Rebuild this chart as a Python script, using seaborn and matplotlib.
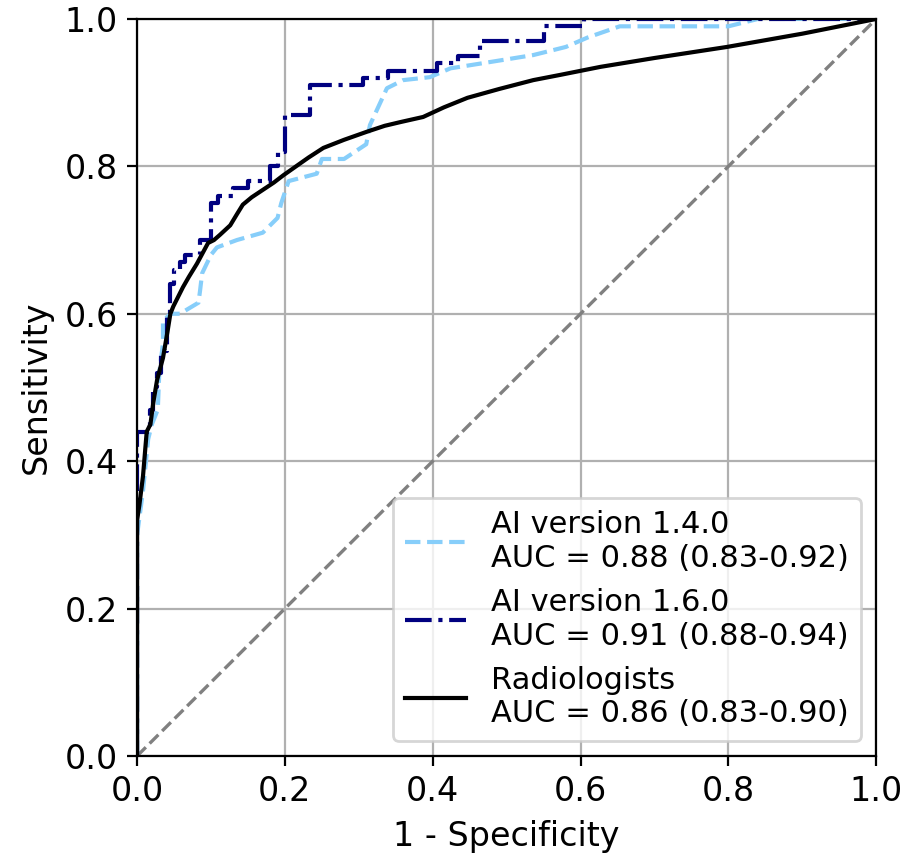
import matplotlib
matplotlib.use('Agg')
import matplotlib.pyplot as plt
import seaborn as sns
import pandas as pd

# ROC curve points (1 - specificity, sensitivity)
fpr_v140 = [0, 0, 0.008, 0.012, 0.015, 0.02, 0.028, 0.03, 0.035, 0.035, 0.045, 0.058,
            0.083, 0.085, 0.088, 0.1, 0.108, 0.135, 0.17, 0.19, 0.195, 0.205, 0.243,
            0.25, 0.28, 0.31, 0.315, 0.338, 0.36, 0.396, 0.424, 0.468, 0.536, 0.58,
            0.61, 0.653, 0.80, 0.84, 1.0]
tpr_v140 = [0, 0.30, 0.36, 0.40, 0.43, 0.45, 0.47, 0.52, 0.56, 0.59, 0.60, 0.60,
            0.615, 0.63, 0.655, 0.68, 0.69, 0.70, 0.71, 0.73, 0.75, 0.78, 0.79,
            0.81, 0.81, 0.83, 0.856, 0.906, 0.917, 0.921, 0.933, 0.94, 0.951, 0.962,
            0.975, 0.99, 0.99, 1.0, 1.0]

fpr_v160 = [0, 0, 0.018, 0.018, 0.022, 0.022, 0.027, 0.027, 0.032, 0.032, 0.04, 0.04,
            0.045, 0.045, 0.05, 0.05, 0.058, 0.058, 0.065, 0.065, 0.085, 0.085, 0.10,
            0.10, 0.11, 0.11, 0.13, 0.13, 0.15, 0.15, 0.18, 0.18, 0.19, 0.19, 0.20,
            0.20, 0.234, 0.234, 0.306, 0.306, 0.34, 0.34, 0.406, 0.406, 0.434, 0.434,
            0.464, 0.464, 0.55, 0.55, 0.604, 0.604, 1.0]
tpr_v160 = [0, 0.44, 0.44, 0.47, 0.47, 0.50, 0.50, 0.52, 0.52, 0.55, 0.55, 0.60,
            0.60, 0.64, 0.64, 0.66, 0.66, 0.67, 0.67, 0.68, 0.68, 0.70, 0.70,
            0.75, 0.75, 0.76, 0.76, 0.77, 0.77, 0.78, 0.78, 0.80, 0.80, 0.82, 0.82,
            0.87, 0.87, 0.91, 0.91, 0.92, 0.92, 0.93, 0.93, 0.94, 0.94, 0.95,
            0.95, 0.97, 0.97, 0.99, 0.99, 1.0, 1.0]

fpr_rad = [0, 0, 0.003, 0.008, 0.013, 0.018, 0.022, 0.027, 0.035, 0.041, 0.045, 0.049,
           0.055, 0.062, 0.07, 0.081, 0.096, 0.104, 0.112, 0.126, 0.135, 0.143, 0.155,
           0.17, 0.185, 0.198, 0.215, 0.232, 0.252, 0.28, 0.311, 0.335, 0.356, 0.387,
           0.415, 0.447, 0.49, 0.536, 0.572, 0.627, 0.70, 0.798, 0.90, 1.0]
tpr_rad = [0, 0.32, 0.34, 0.38, 0.44, 0.45, 0.48, 0.51, 0.54, 0.575, 0.60, 0.61,
           0.622, 0.636, 0.65, 0.668, 0.696, 0.70, 0.707, 0.72, 0.735, 0.748, 0.758,
           0.768, 0.778, 0.788, 0.80, 0.812, 0.825, 0.836, 0.847, 0.855, 0.86, 0.867,
           0.88, 0.893, 0.905, 0.917, 0.924, 0.935, 0.947, 0.962, 0.98, 1.0]

chance = [0, 1]

labels = ['AI version 1.4.0\nAUC = 0.88 (0.83-0.92)',
          'AI version 1.6.0\nAUC = 0.91 (0.88-0.94)',
          'Radiologists\nAUC = 0.86 (0.83-0.90)']

plt.rcParams['font.size'] = 12
fig = plt.figure(figsize=(4.54, 4.305), dpi=200)
ax = fig.add_axes([0.151, 0.122, 0.814, 0.856])

sns.lineplot(x=chance, y=chance, color='gray', linestyle='--', lw=1.2, ax=ax)
sns.lineplot(x=fpr_v140, y=tpr_v140, sort=False, estimator=None, color='lightskyblue',
             linestyle='--', lw=1.5, label=labels[0], ax=ax)
sns.lineplot(x=fpr_v160, y=tpr_v160, sort=False, estimator=None, color='navy',
             linestyle='-.', lw=1.5, label=labels[1], ax=ax)
sns.lineplot(x=fpr_rad, y=tpr_rad, sort=False, estimator=None, color='black',
             linestyle='-', lw=1.5, label=labels[2], ax=ax)

ax.set_xlim(0, 1)
ax.set_ylim(0, 1)
ax.set_xticks([0, 0.2, 0.4, 0.6, 0.8, 1.0])
ax.set_yticks([0, 0.2, 0.4, 0.6, 0.8, 1.0])
ax.grid(True, color='#b0b0b0', lw=0.8)
ax.set_axisbelow(True)
ax.set_xlabel('1 - Specificity')
ax.set_ylabel('Sensitivity')
ax.legend(loc='lower right', fontsize=11)

fig.savefig('out.png', dpi=200)
plt.close()
